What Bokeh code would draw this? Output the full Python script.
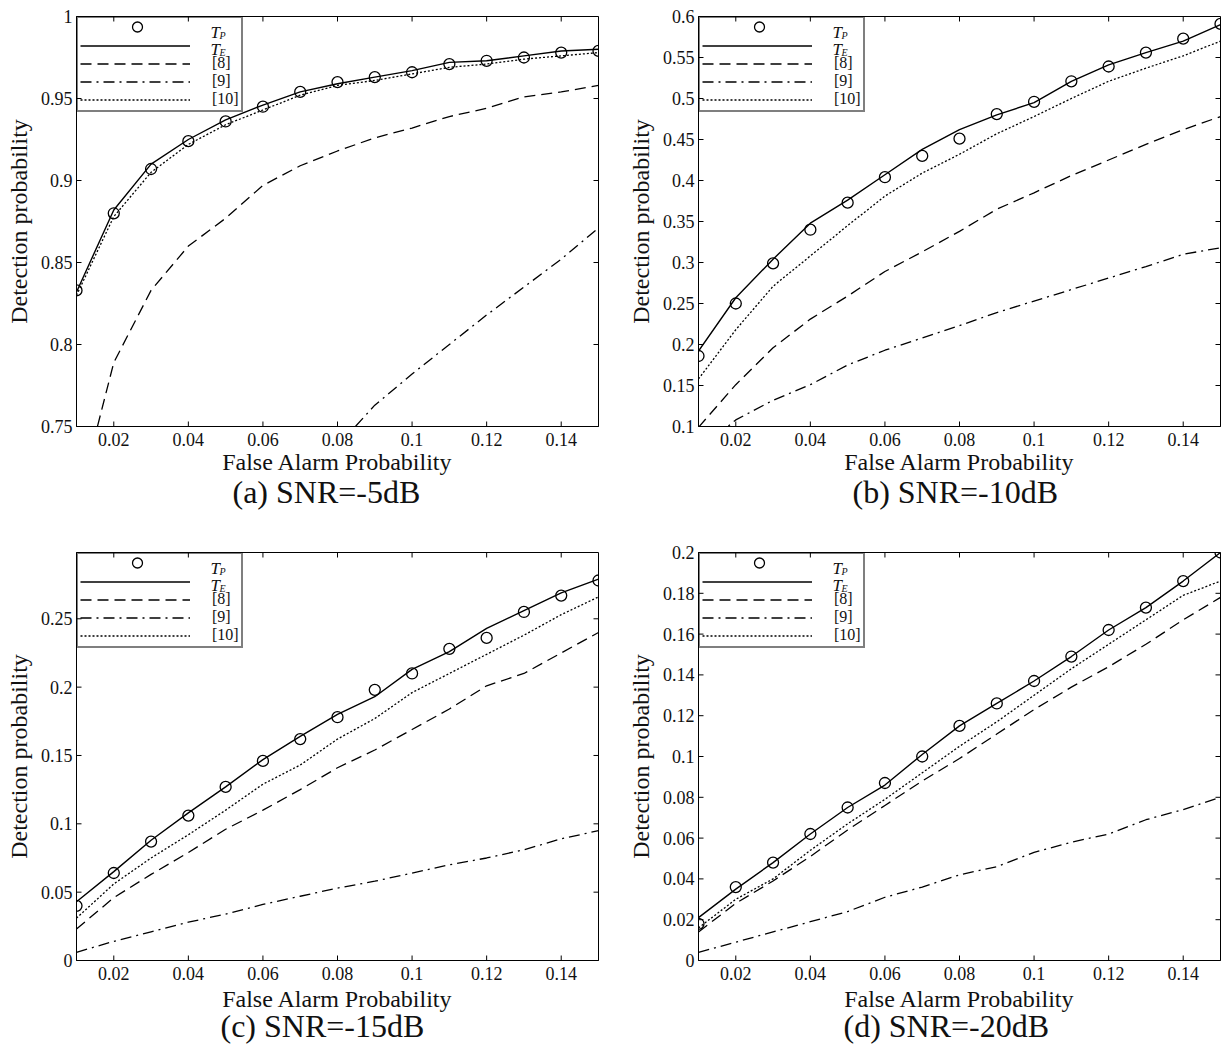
import math
from bokeh.plotting import figure
from bokeh.models import (Legend, LegendItem, FixedTicker,
                          CustomJSTickFormatter, Range1d)
from bokeh.layouts import column, row
from bokeh.core.properties import value
from bokeh.embed import file_html
from bokeh.resources import INLINE

# ---------------- data ----------------
far = [0.01, 0.02, 0.03, 0.04, 0.05, 0.06, 0.07, 0.08,
       0.09, 0.10, 0.11, 0.12, 0.13, 0.14, 0.15]

# (a) SNR=-5dB
a_tp = [0.833, 0.880, 0.907, 0.924, 0.936, 0.945, 0.954, 0.960,
        0.963, 0.966, 0.971, 0.973, 0.975, 0.978, 0.979]
a_te = [0.832, 0.882, 0.910, 0.925, 0.937, 0.946, 0.954, 0.959,
        0.963, 0.967, 0.972, 0.973, 0.976, 0.979, 0.980]
a_r8 = [0.700, 0.789, 0.833, 0.860, 0.877, 0.897, 0.909, 0.918,
        0.926, 0.932, 0.939, 0.944, 0.951, 0.954, 0.958]
a_r9 = [0.550, 0.600, 0.630, 0.660, 0.680, 0.700, 0.720, 0.738,
        0.763, 0.782, 0.800, 0.818, 0.835, 0.852, 0.871]
a_r10 = [0.830, 0.878, 0.905, 0.922, 0.934, 0.943, 0.952, 0.958,
         0.961, 0.965, 0.969, 0.971, 0.974, 0.976, 0.978]

# (b) SNR=-10dB
b_tp = [0.186, 0.250, 0.299, 0.340, 0.373, 0.404, 0.430, 0.451,
        0.481, 0.496, 0.521, 0.539, 0.556, 0.573, 0.591]
b_te = [0.192, 0.257, 0.304, 0.348, 0.376, 0.407, 0.438, 0.462,
        0.480, 0.495, 0.521, 0.541, 0.556, 0.570, 0.590]
b_r8 = [0.099, 0.151, 0.196, 0.231, 0.259, 0.289, 0.313, 0.338,
        0.365, 0.385, 0.406, 0.425, 0.444, 0.462, 0.478]
b_r9 = [0.070, 0.108, 0.132, 0.151, 0.175, 0.193, 0.208, 0.223,
        0.239, 0.253, 0.267, 0.281, 0.295, 0.310, 0.318]
b_r10 = [0.158, 0.218, 0.271, 0.308, 0.345, 0.381, 0.409, 0.432,
         0.457, 0.478, 0.500, 0.521, 0.537, 0.552, 0.570]

# (c) SNR=-15dB
c_tp = [0.040, 0.064, 0.087, 0.106, 0.127, 0.146, 0.162, 0.178,
        0.198, 0.210, 0.228, 0.236, 0.255, 0.267, 0.278]
c_te = [0.043, 0.065, 0.088, 0.108, 0.127, 0.147, 0.164, 0.180,
        0.193, 0.213, 0.226, 0.243, 0.256, 0.269, 0.279]
c_r8 = [0.023, 0.046, 0.063, 0.079, 0.096, 0.110, 0.125, 0.141,
        0.154, 0.169, 0.184, 0.201, 0.210, 0.225, 0.240]
c_r9 = [0.006, 0.014, 0.021, 0.028, 0.034, 0.041, 0.047, 0.053,
        0.058, 0.064, 0.070, 0.075, 0.081, 0.089, 0.095]
c_r10 = [0.031, 0.056, 0.075, 0.092, 0.110, 0.129, 0.143, 0.162,
         0.177, 0.196, 0.210, 0.224, 0.238, 0.253, 0.266]

# (d) SNR=-20dB
d_tp = [0.018, 0.036, 0.048, 0.062, 0.075, 0.087, 0.100, 0.115,
        0.126, 0.137, 0.149, 0.162, 0.173, 0.186, 0.200]
d_te = [0.021, 0.035, 0.048, 0.062, 0.075, 0.086, 0.101, 0.115,
        0.126, 0.137, 0.149, 0.162, 0.173, 0.186, 0.200]
d_r8 = [0.014, 0.028, 0.039, 0.051, 0.064, 0.076, 0.088, 0.099,
        0.111, 0.123, 0.134, 0.144, 0.155, 0.167, 0.178]
d_r9 = [0.004, 0.009, 0.014, 0.019, 0.024, 0.031, 0.036, 0.042,
        0.046, 0.053, 0.058, 0.062, 0.069, 0.074, 0.080]
d_r10 = [0.016, 0.030, 0.040, 0.054, 0.067, 0.079, 0.092, 0.105,
         0.117, 0.130, 0.143, 0.155, 0.167, 0.179, 0.186]

x_ticks = [0.02, 0.04, 0.06, 0.08, 0.10, 0.12, 0.14]
a_yticks = [0.75, 0.80, 0.85, 0.90, 0.95, 1.0]
b_yticks = [0.10, 0.15, 0.20, 0.25, 0.30, 0.35, 0.40, 0.45, 0.50, 0.55, 0.60]
c_yticks = [0.0, 0.05, 0.10, 0.15, 0.20, 0.25]
d_yticks = [0.0, 0.02, 0.04, 0.06, 0.08, 0.10, 0.12, 0.14, 0.16, 0.18, 0.20]

legend_labels = ["[8]", "[9]", "[10]"]
legend_subs = ["P", "E"]
x_label = "False Alarm Probability"
y_label = "Detection probability"
x_lim = (0.01, 0.15)

SERIF = "Liberation Serif"
INK = "#111111"
FW = 522          # frame width in px
ROW_H = 17        # legend row height in px
LEG_PAD = 2
GLYPH_W = 110
STANDOFF = 22


def make_panel(tp, te, r8, r9, r10, yr, yticks, title, width, height,
               bl, br, bt, bb, fh, title_left, tick_so, xl_so, title_so):
    p = figure(width=width, height=height, output_backend="svg",
               toolbar_location=None, title_location="below",
               x_range=Range1d(*x_lim), y_range=Range1d(*yr),
               min_border_left=bl, min_border_right=br,
               min_border_top=bt, min_border_bottom=bb)
    p.background_fill_color = "white"
    p.border_fill_color = "white"
    p.outline_line_color = "black"
    p.outline_line_width = 1
    p.grid.visible = False

    fmt = CustomJSTickFormatter(code="return String(parseFloat(tick.toFixed(6)));")
    p.xaxis.ticker = FixedTicker(ticks=x_ticks)
    p.yaxis.ticker = FixedTicker(ticks=yticks)
    p.xaxis.formatter = fmt
    p.yaxis.formatter = fmt
    for ax in (p.xaxis[0], p.yaxis[0]):
        ax.major_tick_in = 0
        ax.major_tick_out = 0
        ax.minor_tick_line_color = None
        ax.axis_line_color = "black"
        ax.major_label_text_font = SERIF
        ax.major_label_text_font_size = "18px"
        ax.major_label_text_color = INK
        ax.axis_label_text_font = SERIF
        ax.axis_label_text_font_size = "24px"
        ax.axis_label_text_font_style = "normal"
        ax.axis_label_text_color = INK
    p.xaxis.major_label_standoff = tick_so
    p.yaxis.major_label_standoff = 4
    p.xaxis.axis_label = x_label
    p.yaxis.axis_label = y_label
    p.xaxis.axis_label_standoff = xl_so
    p.yaxis.axis_label_standoff = 6

    p.title.text = title
    p.title.align = "left"
    p.title.offset = title_left
    p.title.standoff = title_so
    p.title.text_font = SERIF
    p.title.text_font_size = "32px"
    p.title.text_font_style = "normal"
    p.title.text_color = INK

    # inward tick marks on all four sides (half of each dash is clipped by the frame)
    nx, ny = len(x_ticks), len(yticks)
    for yy in (yr[0], yr[1]):
        p.scatter(x_ticks, [yy] * nx, marker="dash", angle=math.pi / 2, size=10,
                  line_color="black", line_width=1)
    for xx in x_lim:
        p.scatter([xx] * ny, yticks, marker="dash", size=10,
                  line_color="black", line_width=1)

    r_te = p.line(far, te, line_color="black", line_width=1.4)
    r_8 = p.line(far, r8, line_color="black", line_width=1.3, line_dash="11 6")
    r_9 = p.line(far, r9, line_color="black", line_width=1.3, line_dash="11 5 2 5")
    r_10 = p.line(far, r10, line_color="black", line_width=1.3, line_dash="2 2")
    r_tp = p.scatter(far, tp, marker="circle", size=11, fill_color=None,
                     line_color="black", line_width=1.3)

    # legend: the T_P sample is drawn full-size below, so its legend glyph is hidden
    r_tp_key = p.scatter([], [], marker="circle", size=11, fill_color=None,
                         line_color="black", line_alpha=0.0)
    labels = [" ", " "] + legend_labels
    items = [LegendItem(label=lab, renderers=[r])
             for lab, r in zip(labels, (r_tp_key, r_te, r_8, r_9, r_10))]
    leg = Legend(items=items, location="top_left", margin=0, padding=LEG_PAD,
                 spacing=0, glyph_width=GLYPH_W, glyph_height=ROW_H,
                 label_height=ROW_H, label_width=26, label_standoff=STANDOFF,
                 label_text_font=SERIF, label_text_font_size="16px",
                 label_text_color=INK,
                 border_line_color="black", border_line_width=2,
                 background_fill_alpha=0.0)
    p.add_layout(leg)

    def px_to_x(px):
        return x_lim[0] + px / FW * (x_lim[1] - x_lim[0])

    def py_to_y(py):
        return yr[1] - py / fh * (yr[1] - yr[0])

    # legend key circle for T_P
    p.scatter([px_to_x(LEG_PAD + GLYPH_W / 2 + 4)], [py_to_y(LEG_PAD + ROW_H / 2)],
              marker="circle", size=10, fill_color=None, line_color="black",
              line_width=1.3)

    # italic T with subscript for the first two legend rows
    lx = LEG_PAD + GLYPH_W + STANDOFF
    for i, sub in enumerate(legend_subs):
        yc = LEG_PAD + ROW_H / 2 + ROW_H * i
        p.text(x=[px_to_x(lx)], y=[py_to_y(yc + 5)], text=["T"],
               text_font=value(SERIF), text_font_size="17px",
               text_font_style="italic", text_baseline="alphabetic",
               text_align="left", text_color=INK)
        p.text(x=[px_to_x(lx + 9)], y=[py_to_y(yc + 8)], text=[sub],
               text_font=value(SERIF), text_font_size="10px",
               text_font_style="italic", text_baseline="alphabetic",
               text_align="left", text_color=INK)
    return p


pa = make_panel(a_tp, a_te, a_r8, a_r9, a_r10, (0.75, 1.0), a_yticks,
                "(a) SNR=-5dB", 610, 520, 76, 12, 16, 94, 410, 156, 6, 0, -12)
pb = make_panel(b_tp, b_te, b_r8, b_r9, b_r10, (0.1, 0.6), b_yticks,
                "(b) SNR=-10dB", 612, 520, 88, 2, 16, 94, 410, 154, 6, 0, -12)
pc = make_panel(c_tp, c_te, c_r8, c_r9, c_r10, (0.0, 0.2985), c_yticks,
                "(c) SNR=-15dB", 610, 524, 76, 12, 32, 84, 408, 144, 6, 3, -17)
pd = make_panel(d_tp, d_te, d_r8, d_r9, d_r10, (0.0, 0.2), d_yticks,
                "(d) SNR=-20dB", 612, 524, 88, 2, 32, 84, 408, 145, 6, 3, -17)

layout = column(row(pa, pb), row(pc, pd))
open("out.html", "w").write(file_html(layout, INLINE))
